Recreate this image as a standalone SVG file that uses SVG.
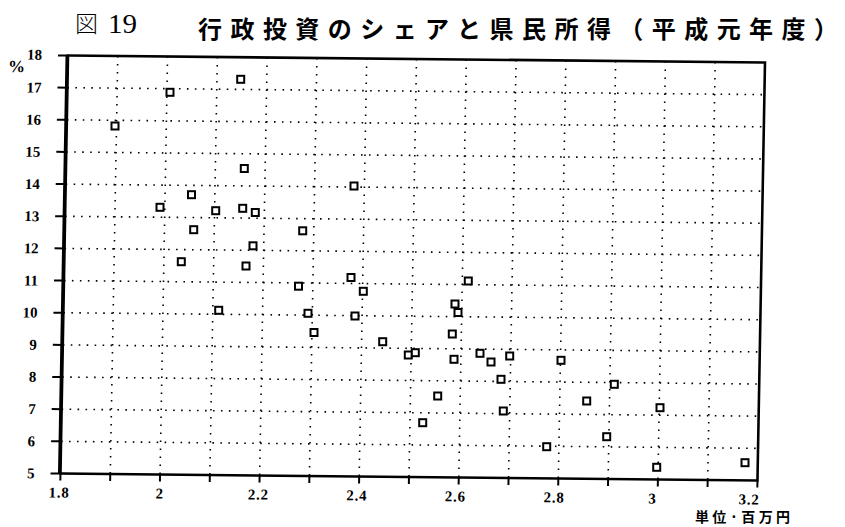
<svg xmlns="http://www.w3.org/2000/svg" width="845" height="527" viewBox="0 0 845 527">
<style>
.grid line{stroke:#000;stroke-width:1.6;stroke-dasharray:1.6 6.4;fill:none}
.frame{fill:none;stroke:#000;stroke-width:2.6}
.tick{stroke:#000;stroke-width:2}
.yl{font-family:"Liberation Serif",serif;font-weight:bold;font-size:15px;text-anchor:end;fill:#000}
.xl{font-family:"Liberation Serif",serif;font-weight:bold;font-size:15px;text-anchor:middle;fill:#000;letter-spacing:0.8px}
.pt{fill:#fff;stroke:#000;stroke-width:2}
.cjk{font-family:"Noto Sans CJK JP","Noto Sans CJK SC",sans-serif;fill:#000}
</style>
<rect width="845" height="527" fill="#fff"/>
<g id="title">
<text class="cjk" x="75" y="32" font-size="23" font-weight="300">図</text>
<text x="108" y="33" font-family="Liberation Serif,serif" font-size="28" textLength="29" lengthAdjust="spacingAndGlyphs">19</text>
<text class="cjk" x="198" y="38" font-size="24" font-weight="bold" textLength="640" lengthAdjust="spacing">行政投資のシェアと県民所得（平成元年度）</text>
</g>
<g id="chart" transform="matrix(0.9957 0.01 -0.018 1 68 55.5)">
<g id="grid" class="grid">
<line x1="0" y1="32.15" x2="700" y2="32.15"/>
<line x1="0" y1="64.31" x2="700" y2="64.31"/>
<line x1="0" y1="96.46" x2="700" y2="96.46"/>
<line x1="0" y1="128.62" x2="700" y2="128.62"/>
<line x1="0" y1="160.77" x2="700" y2="160.77"/>
<line x1="0" y1="192.92" x2="700" y2="192.92"/>
<line x1="0" y1="225.08" x2="700" y2="225.08"/>
<line x1="0" y1="257.23" x2="700" y2="257.23"/>
<line x1="0" y1="289.38" x2="700" y2="289.38"/>
<line x1="0" y1="321.54" x2="700" y2="321.54"/>
<line x1="0" y1="353.69" x2="700" y2="353.69"/>
<line x1="0" y1="385.85" x2="700" y2="385.85"/>
<line x1="50" y1="0" x2="50" y2="418"/>
<line x1="100" y1="0" x2="100" y2="418"/>
<line x1="150" y1="0" x2="150" y2="418"/>
<line x1="200" y1="0" x2="200" y2="418"/>
<line x1="250" y1="0" x2="250" y2="418"/>
<line x1="300" y1="0" x2="300" y2="418"/>
<line x1="350" y1="0" x2="350" y2="418"/>
<line x1="400" y1="0" x2="400" y2="418"/>
<line x1="450" y1="0" x2="450" y2="418"/>
<line x1="500" y1="0" x2="500" y2="418"/>
<line x1="550" y1="0" x2="550" y2="418"/>
<line x1="600" y1="0" x2="600" y2="418"/>
<line x1="650" y1="0" x2="650" y2="418"/>
</g>
<g id="axes">
<rect class="frame" x="0" y="0" width="700" height="418"/>
<line x1="-1" y1="0" x2="-1" y2="418" stroke="#000" stroke-width="3"/>
<path class="tick" d="M-10 0H0M-10 32.15H0M-10 64.31H0M-10 96.46H0M-10 128.62H0M-10 160.77H0M-10 192.92H0M-10 225.08H0M-10 257.23H0M-10 289.38H0M-10 321.54H0M-10 353.69H0M-10 385.85H0M-10 418H0"/>
<path class="tick" d="M0 418V425M50 418V425M100 418V425M150 418V425M200 418V425M250 418V425M300 418V425M350 418V425M400 418V425M450 418V425M500 418V425M550 418V425M600 418V425M650 418V425M700 418V425"/>
<text x="-60" y="17" font-family="Liberation Serif,serif" font-weight="bold" font-size="17">%</text>
<text class="yl" x="-26" y="4.5" font-size="12">18</text>
<text class="yl" x="-26" y="37.4">17</text>
<text class="yl" x="-26" y="69.5">16</text>
<text class="yl" x="-26" y="101.7">15</text>
<text class="yl" x="-26" y="133.8">14</text>
<text class="yl" x="-26" y="166">13</text>
<text class="yl" x="-26" y="198.1">12</text>
<text class="yl" x="-26" y="230.3">11</text>
<text class="yl" x="-26" y="262.4">10</text>
<text class="yl" x="-26" y="294.6">9</text>
<text class="yl" x="-26" y="326.7">8</text>
<text class="yl" x="-26" y="358.9">7</text>
<text class="yl" x="-26" y="391.1">6</text>
<text class="yl" x="-26" y="423.2">5</text>
<text class="xl" x="-1" y="442">1.8</text>
<text class="xl" x="100" y="442">2</text>
<text class="xl" x="199" y="442">2.2</text>
<text class="xl" x="298" y="442">2.4</text>
<text class="xl" x="397" y="442">2.6</text>
<text class="xl" x="496" y="442">2.8</text>
<text class="xl" x="595" y="442">3</text>
<text class="xl" x="692" y="442">3.2</text>
</g>
</g>
<g id="points">
<rect class="pt" x="111.5" y="122.5" width="7" height="7"/>
<rect class="pt" x="166.5" y="88.8" width="7" height="7"/>
<rect class="pt" x="237.2" y="75.8" width="7" height="7"/>
<rect class="pt" x="240.8" y="165" width="7" height="7"/>
<rect class="pt" x="188" y="191.2" width="7" height="7"/>
<rect class="pt" x="156.5" y="203.8" width="7" height="7"/>
<rect class="pt" x="212.2" y="207.2" width="7" height="7" stroke-width="2.6"/>
<rect class="pt" x="239.2" y="204.8" width="7" height="7"/>
<rect class="pt" x="251.8" y="209" width="7" height="7"/>
<rect class="pt" x="190.2" y="226.2" width="7" height="7"/>
<rect class="pt" x="299.2" y="227.3" width="7" height="7"/>
<rect class="pt" x="249.5" y="242.3" width="7" height="7"/>
<rect class="pt" x="177.8" y="258.2" width="7" height="7"/>
<rect class="pt" x="242.5" y="262.5" width="7" height="7"/>
<rect class="pt" x="295" y="282.7" width="7" height="7"/>
<rect class="pt" x="215.2" y="306.8" width="7" height="7"/>
<rect class="pt" x="304.5" y="309.8" width="7" height="7"/>
<rect class="pt" x="310.5" y="329" width="7" height="7"/>
<rect class="pt" x="350.5" y="182.5" width="7" height="7"/>
<rect class="pt" x="347.5" y="274" width="7" height="7"/>
<rect class="pt" x="359.8" y="287.8" width="7" height="7"/>
<rect class="pt" x="351.5" y="312.5" width="7" height="7"/>
<rect class="pt" x="379.2" y="338.2" width="7" height="7"/>
<rect class="pt" x="404.8" y="351.5" width="7" height="7"/>
<rect class="pt" x="411.8" y="349.2" width="7" height="7"/>
<rect class="pt" x="434.2" y="392.5" width="7" height="7"/>
<rect class="pt" x="419.2" y="419.2" width="7" height="7"/>
<rect class="pt" x="451.5" y="300.5" width="7" height="7"/>
<rect class="pt" x="454.5" y="309" width="7" height="7"/>
<rect class="pt" x="448.8" y="330.5" width="7" height="7"/>
<rect class="pt" x="450.5" y="355.8" width="7" height="7"/>
<rect class="pt" x="464.8" y="277.5" width="7" height="7"/>
<rect class="pt" x="476.5" y="349.8" width="7" height="7"/>
<rect class="pt" x="487.5" y="358.5" width="7" height="7"/>
<rect class="pt" x="506.2" y="352.5" width="7" height="7"/>
<rect class="pt" x="497.5" y="375.8" width="7" height="7"/>
<rect class="pt" x="499.8" y="407.5" width="7" height="7"/>
<rect class="pt" x="543.2" y="443.2" width="7" height="7"/>
<rect class="pt" x="557.5" y="356.8" width="7" height="7"/>
<rect class="pt" x="610.8" y="380.8" width="7" height="7"/>
<rect class="pt" x="583.2" y="397.5" width="7" height="7"/>
<rect class="pt" x="656.5" y="404.2" width="7" height="7"/>
<rect class="pt" x="603.2" y="433.2" width="7" height="7"/>
<rect class="pt" x="653.2" y="463.8" width="7" height="7"/>
<rect class="pt" x="741.5" y="459.2" width="7" height="7"/>
</g>
<g id="unit">
<text class="cjk" x="695" y="522" font-size="14" font-weight="bold" textLength="95" lengthAdjust="spacing">単位·百万円</text>
</g>
</svg>
